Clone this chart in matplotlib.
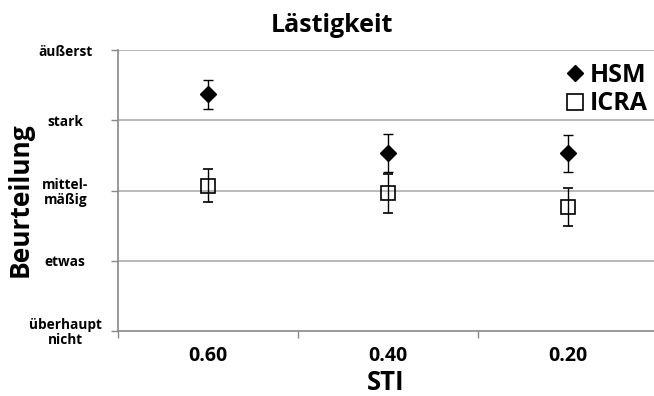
import numpy as np
import matplotlib
matplotlib.use("Agg")
import matplotlib.pyplot as plt
from matplotlib.ticker import FixedLocator
from matplotlib.lines import Line2D

plt.rcParams['font.family'] = ['Open Sans', 'DejaVu Sans']
plt.rcParams['font.weight'] = 'bold'

# categories (STI) and rating scale
sti_labels = ['0.60', '0.40', '0.20']
rating_levels = [1, 2, 3, 4, 5]
rating_labels = ['überhaupt\nnicht', 'etwas', 'mittel-\nmäßig', 'stark', 'äußerst']

# mean ratings and error bar half-widths
hsm_mean = [4.37, 3.53, 3.53]
hsm_err = [0.21, 0.27, 0.26]
icra_mean = [3.07, 2.96, 2.76]
icra_err = [0.24, 0.28, 0.27]

fig = plt.figure(figsize=(6.54, 3.96), dpi=100)
ax = fig.add_axes([118 / 654, 65 / 396, 536 / 654, 281 / 396])

x = np.arange(len(sti_labels))

# horizontal gridlines
for lv in rating_levels[1:]:
    ax.axhline(lv, color='#b3b3b3', lw=1.3, zorder=0)

ax.errorbar(x, hsm_mean, yerr=hsm_err, fmt='D', color='black', ms=8.5,
            ecolor='black', elinewidth=1, capsize=3.5, capthick=1, zorder=3)
ax.errorbar(x, icra_mean, yerr=icra_err, fmt='s', mfc='none', mec='black',
            mew=1.2, ms=9.5, ecolor='black', elinewidth=1, capsize=3.5,
            capthick=1, zorder=3)

ax.set_xlim(-0.5, -0.5 + 536 / 180)
ax.set_ylim(1, 5)

# x: labels at category centres, tick marks at category boundaries
ax.set_xticks(x)
ax.set_xticklabels(sti_labels, fontsize=14, fontweight='bold')
ax.xaxis.set_minor_locator(FixedLocator([-0.5, 0.5, 1.5, 2.5]))
ax.tick_params(axis='x', which='major', length=0, pad=11)
ax.tick_params(axis='x', which='minor', length=5, width=1, color='#888888')

ax.set_yticks(rating_levels)
ax.set_yticklabels(rating_labels, fontsize=9.8, fontweight='bold',
                   ha='center', linespacing=1.05)
ax.tick_params(axis='y', length=5, width=1, color='#888888', pad=33)

for side in ['top', 'right']:
    ax.spines[side].set_visible(False)
for side in ['left', 'bottom']:
    ax.spines[side].set_color('#888888')
    ax.spines[side].set_linewidth(1.2)

ax.set_xlabel('STI', fontsize=18.5, fontweight='bold', labelpad=2)
fig.text(20 / 654, 1 - 200 / 396, 'Beurteilung', rotation=90, fontsize=19,
         fontweight='bold', ha='center', va='center')
fig.text(332 / 654, 1 - 25 / 396, 'Lästigkeit', fontsize=18,
         fontweight='bold', ha='center', va='center')

handles = [Line2D([], [], ls='none', marker='D', color='black', ms=8),
           Line2D([], [], ls='none', marker='s', mfc='none', mec='black',
                  mew=1.2, ms=11)]
leg = ax.legend(handles, ['HSM', 'ICRA'], loc='upper right', frameon=False,
                bbox_to_anchor=(1.012, 1.0),
                prop={'size': 18, 'weight': 'bold'}, handletextpad=0.2,
                borderaxespad=0.1, labelspacing=0.15, handlelength=0.8)

fig.savefig('out.png', dpi=100, facecolor='white')
